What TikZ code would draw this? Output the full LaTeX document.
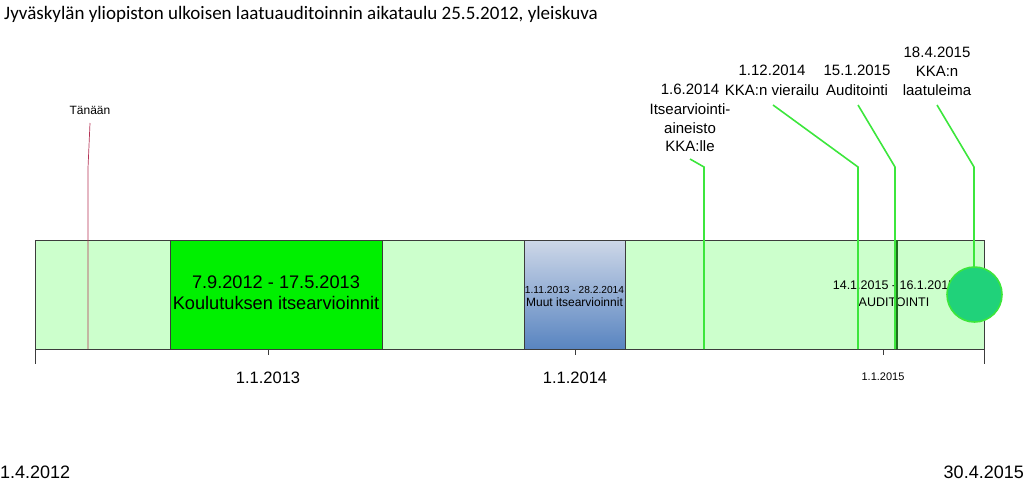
\documentclass[tikz,border=0pt]{standalone}
\usepackage{fontspec}
\setmainfont{Liberation Sans}
\newfontfamily\titlefont{Carlito}
\definecolor{barfill}{RGB}{204,255,204}
\definecolor{barline}{RGB}{60,60,60}
\definecolor{brightgreen}{RGB}{0,240,0}
\definecolor{callgreen}{RGB}{60,230,60}
\definecolor{circfill}{RGB}{32,210,122}
\definecolor{todayred}{RGB}{180,50,85}
\definecolor{blueTop}{RGB}{205,215,232}
\definecolor{blueBot}{RGB}{88,132,192}
\definecolor{darkgreenline}{RGB}{30,110,30}
\newcommand{\fs}[2]{\fontsize{#1}{#2}\selectfont}
\begin{document}
\begin{tikzpicture}[x=1pt,y=-1pt,
  period/.style={draw=barline,line width=0.8pt,anchor=north west,inner sep=0pt},
  lbl/.style={inner sep=0pt,align=center,text=black},
  callline/.style={draw=callgreen,line width=1.6pt},
  tick/.style={draw=barline,line width=0.8pt}]
\useasboundingbox (0,0) rectangle (1024,485);
% title
\node[lbl,anchor=west,font=\titlefont\fs{19}{22}] (title) at (4,14) {Jyväskylän yliopiston ulkoisen laatuauditoinnin aikataulu 25.5.2012, yleiskuva};
% bar
\node[period,fill=barfill,minimum width=949pt,minimum height=109pt] (bar) at (35,240) {};
\node[period,fill=brightgreen,minimum width=212pt,minimum height=109pt] (koul) at (170,240) {};
\node[lbl,font=\fs{18.2}{21}] (koult1) at (276,282) {7.9.2012 - 17.5.2013};
\node[lbl,font=\fs{18.2}{21}] (koult2) at (276,303) {Koulutuksen itsearvioinnit};
\node[period,top color=blueTop,bottom color=blueBot,minimum width=101pt,minimum height=109pt] (muut) at (524,240) {};
\node[lbl,font=\fs{10.2}{12}] (muut1) at (574.5,290) {1.11.2013 - 28.2.2014};
\node[lbl,font=\fs{12}{14}] (muut2) at (574.5,302) {Muut itsearvioinnit};
% audit text
\node[lbl,font=\fs{12.5}{15}] (aud1) at (894,285) {14.1.2015 - 16.1.2015};
\node[lbl,font=\fs{12.5}{15}] (aud2) at (894,302) {AUDITOINTI};
\draw[darkgreenline,line width=1.5pt] (897,240) -- (897,349);
% axis ticks
\coordinate (a0) at (35,349); \coordinate (a0e) at (35,364);
\coordinate (a1) at (268,349); \coordinate (a1e) at (268,355);
\coordinate (a2) at (575,349); \coordinate (a2e) at (575,355);
\coordinate (a3) at (883,349); \coordinate (a3e) at (883,355);
\coordinate (a4) at (984,349); \coordinate (a4e) at (984,364);
\draw[tick] (a0) -- (a0e); \draw[tick] (a1) -- (a1e); \draw[tick] (a2) -- (a2e);
\draw[tick] (a3) -- (a3e); \draw[tick] (a4) -- (a4e);
\node[lbl,font=\fs{16.5}{19}] (y2013) at (268,378) {1.1.2013};
\node[lbl,font=\fs{16.5}{19}] (y2014) at (575,378) {1.1.2014};
\node[lbl,font=\fs{11}{13}] (y2015) at (883,377) {1.1.2015};
\node[lbl,font=\fs{18}{21},anchor=west] (start) at (0,472) {1.4.2012};
\node[lbl,font=\fs{18}{21},anchor=east] (end) at (1024,472) {30.4.2015};
% today
\node[lbl,font=\fs{12}{14}] (today) at (90,110) {Tänään};
\coordinate (t1) at (90,123); \coordinate (t2) at (88,168); \coordinate (t3) at (88,349);
\draw[todayred,line width=0.7pt] (t1) -- (t2) -- (t3);
% callouts
\node[lbl,font=\fs{15}{19.5}] (c1a) at (690,89) {1.6.2014};
\node[lbl,font=\fs{15}{18.5}] (c1b) at (690,128) {Itsearviointi-\\aineisto\\KKA:lle};
\coordinate (c1s) at (690,159); \coordinate (c1k) at (704,167); \coordinate (c1e) at (704,349);
\draw[callline] (c1s) -- (c1k) -- (c1e);
\node[lbl,font=\fs{15}{18}] (c2a) at (772,70) {1.12.2014};
\node[lbl,font=\fs{15}{18}] (c2b) at (772,90) {KKA:n vierailu};
\coordinate (c2s) at (773,105); \coordinate (c2k) at (858,167); \coordinate (c2e) at (858,349);
\draw[callline] (c2s) -- (c2k) -- (c2e);
\node[lbl,font=\fs{15}{18}] (c3a) at (857,70) {15.1.2015};
\node[lbl,font=\fs{15}{18}] (c3b) at (857,90) {Auditointi};
\coordinate (c3s) at (858,105); \coordinate (c3k) at (895,167); \coordinate (c3e) at (895,349);
\draw[callline] (c3s) -- (c3k) -- (c3e);
\node[lbl,font=\fs{15}{18}] (c4a) at (937,52) {18.4.2015};
\node[lbl,font=\fs{15}{18}] (c4b) at (937,71) {KKA:n};
\node[lbl,font=\fs{15}{18}] (c4c) at (937,90) {laatuleima};
\coordinate (c4s) at (937,105); \coordinate (c4k) at (974,167); \coordinate (c4e) at (974,270);
\draw[callline] (c4s) -- (c4k) -- (c4e);
\node[circle,draw=callgreen,line width=1.6pt,fill=circfill,minimum size=55pt,inner sep=0pt] (seal) at (974.5,294.5) {};
\end{tikzpicture}
\end{document}
